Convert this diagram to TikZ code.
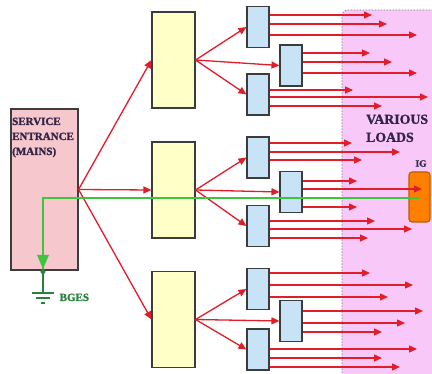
\documentclass[tikz,border=0pt]{standalone}
\usepackage{fontspec}
\setmainfont{Liberation Serif}
\newfontfamily\heavyfont{Liberation Serif}[BoldFeatures={FakeBold=1.3}]
\usetikzlibrary{arrows.meta}
\definecolor{sefill}{RGB}{246,200,206}
\definecolor{yfill}{RGB}{255,255,200}
\definecolor{bfill}{RGB}{200,226,246}
\definecolor{loadfill}{RGB}{248,200,248}
\definecolor{boxline}{RGB}{60,60,60}
\definecolor{arrred}{RGB}{226,28,40}
\definecolor{gline}{RGB}{62,196,62}
\definecolor{gdark}{RGB}{40,130,60}
\definecolor{txtdark}{RGB}{50,36,70}
\definecolor{igfill}{RGB}{255,128,0}
\definecolor{igline}{RGB}{190,90,0}
\begin{document}
\begin{tikzpicture}[x=1pt,y=-1pt,
  box/.style={draw=boxline,line width=1.1pt,inner sep=0pt},
  sebox/.style={box,fill=sefill,minimum width=67pt,minimum height=161pt},
  ybox/.style={box,fill=yfill,minimum width=43pt,minimum height=96pt},
  bbox/.style={box,fill=bfill,minimum width=22pt,minimum height=41pt},
  ra/.style={draw=arrred,line width=1.3pt,-{Triangle[length=8pt,width=7pt]}},
  gl/.style={draw=gline,line width=2pt},
  lbl/.style={inner sep=0pt,align=left}]
\useasboundingbox (0,0) rectangle (432,374);
\clip (0,0) rectangle (432,374);
% loads region
\fill[loadfill,rounded corners=6pt] (342,10) rectangle (460,400);
\draw[gray,line width=0.8pt,dash pattern=on 1.5pt off 1.5pt,rounded corners=6pt] (342,400) -- (342,10) -- (460,10);
% boxes
\node[sebox] (se) at (44.5,189.5) {};
\node[ybox] (y1) at (173.5,60) {};
\node[ybox] (y2) at (173.5,190) {};
\node[ybox] (y3) at (173.5,319.5) {};
\node[bbox] (b11) at (258,27) {};
\node[bbox] (b12) at (291,65.5) {};
\node[bbox] (b13) at (258,94.5) {};
\node[bbox] (b21) at (258,157.5) {};
\node[bbox] (b22) at (291,192) {};
\node[bbox] (b23) at (258,226) {};
\node[bbox] (b31) at (258,289) {};
\node[bbox] (b32) at (291,321) {};
\node[bbox] (b33) at (258,349.5) {};
\node[draw=igline,fill=igfill,line width=1.1pt,rounded corners=3pt,minimum width=21pt,minimum height=50pt,inner sep=0pt] (ig) at (419.5,197) {};
% labels
\node[lbl,text=txtdark,anchor=north west,font=\heavyfont\bfseries\fontsize{11}{15}\selectfont] (setxt) at (12,117.5) {SERVICE\\ENTRANCE\\(MAINS)};
\node[lbl,text=txtdark,anchor=north west,font=\heavyfont\bfseries\fontsize{13.8}{18}\selectfont] (loadtxt) at (366,114.5) {VARIOUS\\LOADS};
\node[lbl,text=txtdark,font=\heavyfont\bfseries\fontsize{9.5}{10}\selectfont] (igtxt) at (421,163.5) {IG};
\node[lbl,text=gdark,anchor=base west,font=\heavyfont\bfseries\fontsize{11}{12}\selectfont] (bges) at (59.5,301) {BGES};
% feeders
\draw[ra] (se.east) -- (y1.west);
\draw[ra] (se.east) -- (y2.west);
\draw[ra] (se.east) -- (y3.west);
\foreach \g in {1,2,3}{
  \draw[ra] (y\g.east) -- (b\g1.west);
  \draw[ra] (y\g.east) -- (b\g2.west);
  \draw[ra] (y\g.east) -- (b\g3.west);
}
% branch circuits to loads
\foreach \b/\y/\e [count=\i] in {
  b11/15/372, b11/24/387, b11/35/417,
  b12/53/370, b12/62/392, b12/73/417,
  b13/90/353, b13/97/428, b13/106/382,
  b21/143/352, b21/152/400, b21/160/362,
  b22/181/357, b22/189/422, b22/207/357,
  b23/221/375, b23/229/412, b23/238/368,
  b31/273/370, b31/285/413, b31/297/388,
  b32/311/423, b32/323/405, b32/332/382,
  b33/349/417, b33/358/382, b33/367/400}{
  \coordinate (oe\i) at (\e,\y);
  \draw[ra] (\b.east |- oe\i) -- (oe\i);
}
% grounding conductor
\coordinate (gturn) at (43,198);
\coordinate (garr) at (43,269);
\coordinate (gdot) at (43,271.5);
\coordinate (gsym) at (43,293);
\draw[gl] (ig.center |- gturn) -- (gturn) -- (garr);
\fill[gline] (garr) -- ++(-6,-14) -- ++(12,0) -- cycle;
\draw[gdark,line width=1.6pt] (gdot) -- (gsym);
\fill[gdark] (gdot) circle (2.6pt);
\draw[gdark,line width=1.4pt] (32,293) -- (54,293);
\draw[gdark,line width=1.4pt] (36,298) -- (50,298);
\draw[gdark,line width=1.4pt] (41,303) -- (45,303);
\end{tikzpicture}
\end{document}
